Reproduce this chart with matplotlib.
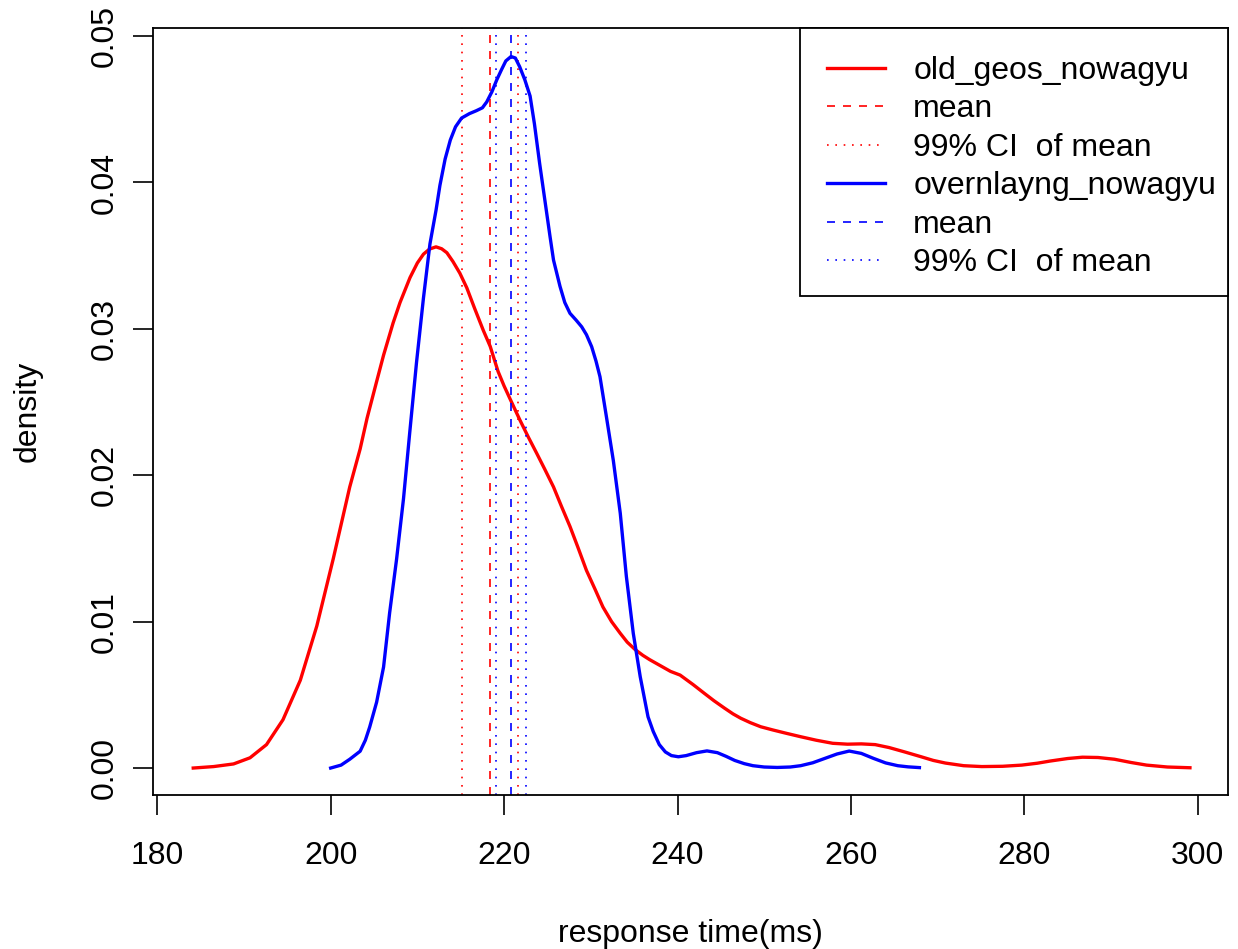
import numpy as np
import matplotlib
matplotlib.use('Agg')
from matplotlib import pyplot as plt
from matplotlib.patches import Rectangle

plt.rcParams['font.family'] = ['Liberation Sans', 'DejaVu Sans']

# density curves (x in ms, y density)
old_x = [184.15, 186.5, 188.8, 190.7, 192.6, 194.5, 196.5, 198.4, 200.3, 202.2,
         203.4, 204.2, 205.3, 206.1, 207.2, 208.0, 209.15, 210.0, 210.7, 211.4,
         212.15, 212.8, 213.4, 214.1, 214.9, 215.7, 216.6, 217.6, 218.4, 219.3,
         220.0, 220.7, 221.8, 222.8, 223.76, 224.7, 225.7, 226.6, 227.6, 228.5,
         229.5, 230.5, 231.4, 232.4, 233.4, 234.2, 235.1, 236.0, 236.8, 238.0,
         239.2, 240.3, 241.8, 243.1, 244.2, 245.4, 246.4, 247.3, 248.4, 249.6,
         251.0, 252.5, 254.2, 256.0, 257.9, 259.6, 261.2, 262.8, 264.4, 266.2,
         268.1, 269.5, 270.9, 273.0, 275.1, 277.5, 279.7, 281.5, 283.0, 285.0,
         286.7, 288.5, 290.4, 292.3, 294.1, 296.5, 299.1]
old_y = [0.0, 0.0001, 0.00028, 0.0007, 0.0016, 0.0033, 0.006, 0.0097, 0.0143, 0.0192,
         0.0218, 0.0239, 0.0264, 0.0282, 0.0304, 0.0318, 0.0335, 0.0345, 0.0351, 0.03545,
         0.0356, 0.03547, 0.0352, 0.0346, 0.0338, 0.0328, 0.0314, 0.0299, 0.0288, 0.0271,
         0.0261, 0.0252, 0.0238, 0.0226, 0.0215, 0.0204, 0.0192, 0.0179, 0.0165, 0.0151,
         0.0135, 0.0122, 0.011, 0.0100, 0.0092, 0.0086, 0.0081, 0.0077, 0.0074, 0.0070,
         0.0066, 0.00635, 0.0057, 0.0051, 0.0046, 0.0041, 0.0037, 0.0034, 0.0031, 0.00282,
         0.0026, 0.00238, 0.00214, 0.0019, 0.00169, 0.00163, 0.00165, 0.0016, 0.0014, 0.0011,
         0.00077, 0.00052, 0.00034, 0.00016, 0.0001, 0.00012, 0.0002, 0.00033, 0.00048, 0.00065,
         0.00074, 0.00072, 0.0006, 0.00038, 0.0002, 0.00007, 0.00002]

new_x = [200.0, 201.2, 202.2, 203.4, 204.0, 204.5, 205.3, 206.1, 206.8, 207.6,
         208.4, 209.1, 209.9, 210.7, 211.45, 212.15, 212.6, 213.2, 213.8, 214.4,
         215.1, 216.0, 216.8, 217.5, 218.0, 218.6, 219.15, 219.7, 220.2, 220.8,
         221.3, 221.8, 222.4, 223.0, 223.5, 224.1, 224.7, 225.3, 225.7, 226.45,
         227.0, 227.6, 228.3, 228.95, 229.5, 230.1, 230.6, 231.06, 231.8, 232.6,
         233.4, 234.1, 234.9, 235.7, 236.6, 237.2, 237.9, 238.6, 239.3, 240.1,
         241.0, 242.2, 243.4, 244.6, 245.6, 246.6, 247.7, 248.7, 250.0, 251.5,
         253.0, 254.2, 255.6, 257.0, 258.4, 259.8, 261.2, 262.6, 264.0, 265.4,
         266.6, 267.9]
new_y = [0.0, 0.0002, 0.0006, 0.00115, 0.0019, 0.0028, 0.0045, 0.0069, 0.0106, 0.01426,
         0.0184, 0.0228, 0.0277, 0.0321, 0.0358, 0.0381, 0.0398, 0.0416, 0.0429, 0.0438,
         0.0444, 0.0447, 0.0449, 0.0451, 0.0455, 0.0462, 0.047, 0.0477, 0.0483, 0.0486,
         0.0485, 0.0479, 0.047, 0.0459, 0.0440, 0.0413, 0.0388, 0.0363, 0.0347, 0.0329,
         0.0318, 0.03106, 0.0306, 0.03014, 0.0296, 0.02878, 0.0278, 0.02673, 0.024, 0.021,
         0.0174, 0.0131, 0.0092, 0.00624, 0.0035, 0.0025, 0.0016, 0.0011, 0.00085, 0.00077,
         0.00085, 0.00105, 0.00117, 0.00105, 0.0008, 0.00052, 0.0003, 0.00016, 0.00007, 0.00004,
         0.00007, 0.00016, 0.00036, 0.00066, 0.00096, 0.00116, 0.001, 0.00066, 0.00035, 0.00016,
         0.00008, 0.00003]

old_mean = 218.37
old_ci = [215.2, 221.6]
new_mean = 220.8
new_ci = [219.03, 222.52]

labels = ['old_geos_nowagyu', 'mean', '99% CI  of mean',
          'overnlayng_nowagyu', 'mean', '99% CI  of mean']

fs = 23
dashed = (0, (4.8, 4.8))
dotted = (0, (1, 4))

fig = plt.figure(figsize=(12.38, 9.49), dpi=100)
ax = fig.add_axes([0.1238, 0.1623, 0.992 - 0.1238, 0.9705 - 0.1623])

h1, = ax.plot(old_x, old_y, color='red', lw=2.4, solid_joinstyle='round')
h2 = ax.axvline(old_mean, color='red', lw=1.2, ls=dashed)
h3 = ax.axvline(old_ci[0], color='red', lw=1.2, ls=dotted)
ax.axvline(old_ci[1], color='red', lw=1.2, ls=dotted)
h4, = ax.plot(new_x, new_y, color='blue', lw=2.4, solid_joinstyle='round')
h5 = ax.axvline(new_mean, color='blue', lw=1.2, ls=dashed)
h6 = ax.axvline(new_ci[0], color='blue', lw=1.2, ls=dotted)
ax.axvline(new_ci[1], color='blue', lw=1.2, ls=dotted)

ax.set_xlim(179.54, 303.5)
ax.set_ylim(-0.00184, 0.05055)
ax.set_xticks(np.arange(180, 301, 20))
ax.set_yticks(np.arange(0, 0.051, 0.01))
ax.set_yticklabels(['%.2f' % v for v in np.arange(0, 0.051, 0.01)],
                   rotation=90, va='center')
ax.tick_params(direction='out', length=14.4, width=1.2, labelsize=fs, color='black')
ax.tick_params(axis='x', pad=19)
ax.tick_params(axis='y', pad=10)
for s in ax.spines.values():
    s.set_linewidth(1.3)

ax.set_xlabel('response time(ms)', fontsize=fs, labelpad=34)
ax.set_ylabel('density', fontsize=fs, labelpad=34)

# legend box like R's legend(): frame drawn separately, entries placed inside
ax.add_patch(Rectangle((0.6017, 0.6506), 0.3983, 0.3494, transform=ax.transAxes,
                       facecolor='white', edgecolor='black', lw=1.3, zorder=4,
                       clip_on=False))
leg = ax.legend([h1, h2, h3, h4, h5, h6], labels, loc='upper left',
                bbox_to_anchor=(0.6269, 0.9635), fontsize=fs, frameon=False,
                borderaxespad=0, borderpad=0, handlelength=1.8,
                handletextpad=0.9, labelspacing=0.266)
leg.set_zorder(5)

fig.savefig('out.png', dpi=100)
